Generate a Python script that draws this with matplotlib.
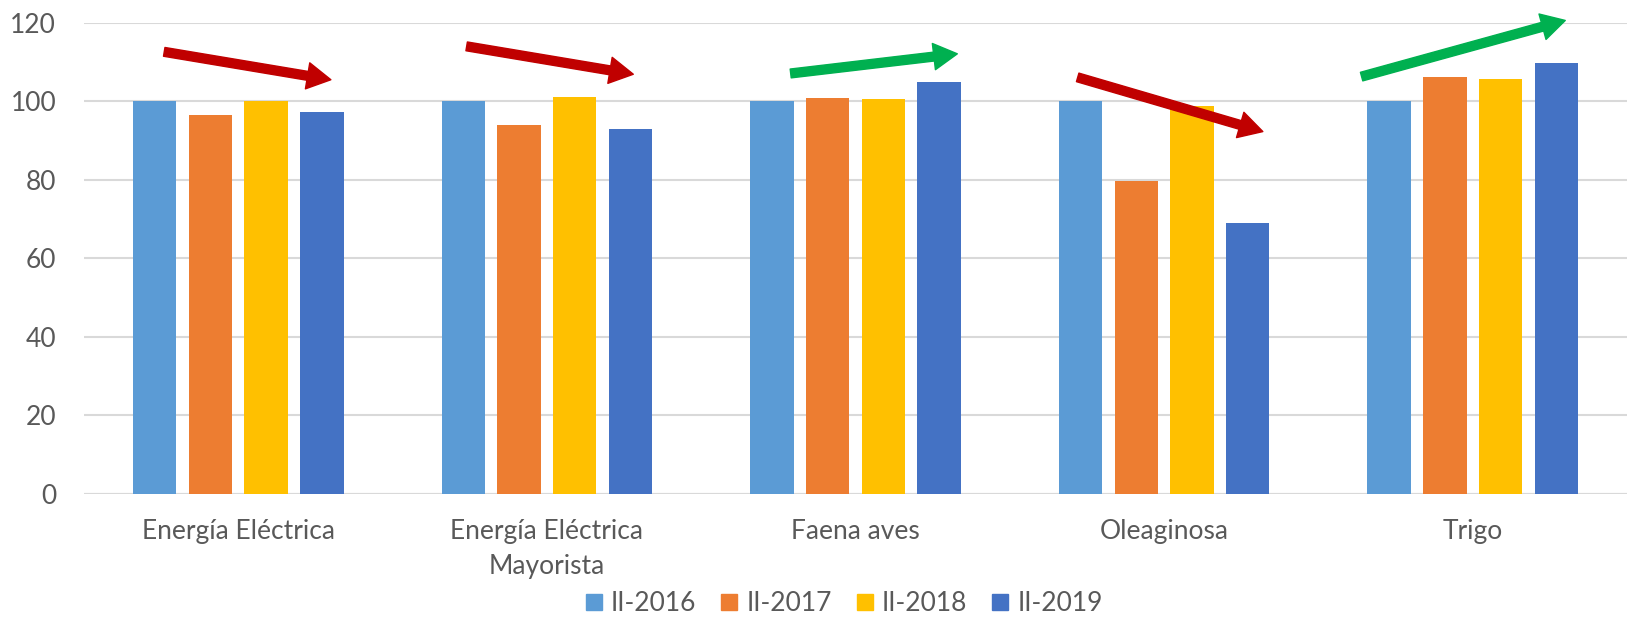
import matplotlib
matplotlib.use("Agg")
import matplotlib.pyplot as plt
from matplotlib.lines import Line2D
import numpy as np

plt.rcParams['font.family'] = ['Lato', 'DejaVu Sans']

categories = ["Energía Eléctrica", "Energía Eléctrica\nMayorista", "Faena aves", "Oleaginosa", "Trigo"]
series_names = ["II-2016", "II-2017", "II-2018", "II-2019"]
s2016 = [100, 100, 100, 100, 100]
s2017 = [96.6, 94.0, 100.9, 79.7, 106.1]
s2018 = [100.1, 101.0, 100.6, 98.7, 105.6]
s2019 = [97.2, 93.0, 105.0, 69.0, 109.7]
colors = ["#5B9BD5", "#ED7D31", "#FFC000", "#4472C4"]

# trend arrows: (x_tail, y_tail, x_head, y_head, color)
arrows = [
    (-0.24, 112.6, 0.30, 105.5, "#C00000"),
    (0.74, 114.0, 1.28, 106.9, "#C00000"),
    (1.79, 107.1, 2.33, 112.1, "#00B050"),
    (2.72, 106.1, 3.32, 92.3, "#C00000"),
    (3.64, 106.3, 4.30, 120.6, "#00B050"),
]

fig = plt.figure(figsize=(16.27, 6.2), dpi=100)
ax = fig.add_axes([84/1627, 1 - 494/620, 1 - 84/1627, (494 - 22.8)/620])

x = np.arange(len(categories))
step = 0.1806
width = 0.1405
all_series = [s2016, s2017, s2018, s2019]
for i, (vals, c) in enumerate(zip(all_series, colors)):
    ax.bar(x + (i - 1.5) * step, vals, width=width, color=c, zorder=3, label=series_names[i])

ax.set_xlim(-0.5, 4.5)
ax.set_ylim(0, 120)
ax.set_yticks(range(0, 121, 20))
ax.yaxis.grid(True, color="#D9D9D9", linewidth=1.5, zorder=0)
ax.set_axisbelow(True)
for s in ax.spines.values():
    s.set_visible(False)
ax.tick_params(axis='both', length=0, colors="#595959", labelsize=19)
ax.tick_params(axis='y', pad=20)
ax.tick_params(axis='x', pad=18)
ax.set_xticks(x)
ax.set_xticklabels(categories, linespacing=1.5)
ax.axhline(0, color="#D9D9D9", linewidth=1.5, zorder=2)

for xt, yt, xh, yh, c in arrows:
    ax.annotate("", xy=(xh, yh), xytext=(xt, yt), annotation_clip=False,
                arrowprops=dict(arrowstyle="simple,head_length=0.85,head_width=0.95,tail_width=0.32",
                                mutation_scale=20, color=c, shrinkA=0, shrinkB=0), zorder=5)

handles = [Line2D([0], [0], marker='s', linestyle='none', markersize=11.5,
                  markerfacecolor=c, markeredgecolor=c) for c in colors]
fig.legend(handles, series_names, loc='center', bbox_to_anchor=(0.518, 0.026), ncol=4,
           frameon=False, fontsize=19, labelcolor="#595959", handletextpad=0.25,
           columnspacing=0.85, handlelength=0.8, borderpad=0)

fig.savefig("out.png", dpi=100)
